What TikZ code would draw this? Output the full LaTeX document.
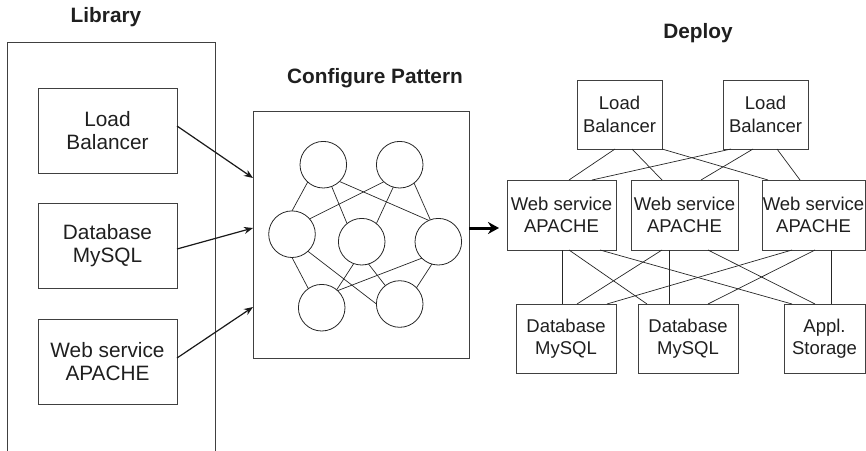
\documentclass[tikz,border=0pt]{standalone}
\usepackage{fontspec}
\setmainfont{Liberation Sans}
\usetikzlibrary{arrows.meta}
\begin{document}
\begin{tikzpicture}[x=1pt,y=-1pt,
 title/.style={font=\fontsize{20.8}{24}\selectfont\bfseries, text=black!88, inner sep=0pt},
 libbox/.style={draw=black!75, line width=0.9pt, minimum width=139pt, minimum height=85pt, align=center, font=\fontsize{20.8}{23.5}\selectfont, inner sep=0pt, outer sep=0pt, text=black!88},
 depbox/.style={draw=black!75, line width=0.9pt, align=center, font=\fontsize{18.5}{22.5}\selectfont, inner sep=0pt, outer sep=0pt, text=black!88},
 framebox/.style={draw=black!75, line width=0.9pt, inner sep=0pt, outer sep=0pt},
 nodecirc/.style={circle, draw=black!85, line width=0.8pt, minimum size=46.6pt, inner sep=0pt, outer sep=0pt},
 link/.style={black!85, line width=0.7pt},
 feed/.style={black!90, line width=1.2pt, -{Stealth[length=9pt,width=7pt]}},
 bigfeed/.style={black, line width=3pt, -{Stealth[length=11pt,width=12pt]}},
]
\useasboundingbox (0,0) rectangle (866,450);

% Titles
\node[title] (tlib) at (106,17) {Library};
\node[title] (tcfg) at (375,78) {Configure Pattern};
\node[title] (tdep) at (698,33) {Deploy};

% Library frame (open at bottom)
\draw[draw=black!75, line width=0.9pt] (7,452) -- (7,42) -- (215,42) -- (215,452);

% Library boxes
\node[libbox] (llb) at (107.5,130.5) {Load\\Balancer};
\node[libbox] (ldb) at (107.5,245.5) {Database\\MySQL};
\node[libbox] (lws) at (107.5,361.5) {Web service\\APACHE};

% Configure box
\node[framebox, minimum width=216pt, minimum height=247pt] (cfg) at (361,234.5) {};

% Circles
\node[nodecirc] (c1) at (323.3,164.7) {};
\node[nodecirc] (c2) at (399.7,164.7) {};
\node[nodecirc] (c3) at (292,234.2) {};
\node[nodecirc] (c4) at (361.7,241.7) {};
\node[nodecirc] (c5) at (438.3,241.7) {};
\node[nodecirc] (c6) at (321.7,307.7) {};
\node[nodecirc] (c7) at (399.7,304) {};

\draw[link] (c1.228) -- (c3.90);
\draw[link] (c1.-69) -- (c4.129);
\draw[link] (c1.-46) -- (c5.114);
\draw[link] (c2.227) -- (c3.41);
\draw[link] (c2.-106) -- (c4.51);
\draw[link] (c2.-52) -- (c5.110);
\draw[link] (c3.-90) -- (c6.125);
\draw[link] (c3.-47) -- (c7.180);
\draw[link] (c4.-110) -- (c6.50);
\draw[link] (c4.-73) -- (c7.128);
\draw[link] (c5.-135) -- (c6.47);
\draw[link] (c5.-106) -- (c7.44);

% Library -> Configure
\draw[feed] ([yshift=4.5pt]llb.east) -- ([yshift=56.5pt]cfg.west);
\draw[feed] ([yshift=-3.5pt]ldb.east) -- ([yshift=6.5pt]cfg.west);
\draw[feed] ([yshift=3.5pt]lws.east) -- ([yshift=-72.5pt]cfg.west);

% Deploy boxes
\node[depbox, minimum width=85pt, minimum height=69pt] (dlb1) at (619.5,114.5) {Load\\Balancer};
\node[depbox, minimum width=85pt, minimum height=69pt] (dlb2) at (765.5,114.5) {Load\\Balancer};
\node[depbox, minimum width=109pt, minimum height=70pt] (w1) at (561.5,215) {Web service\\APACHE};
\node[depbox, minimum width=107pt, minimum height=70pt] (w2) at (684.5,215) {Web service\\APACHE};
\node[depbox, minimum width=103pt, minimum height=70pt] (w3) at (813.5,215) {Web service\\APACHE};
\node[depbox, minimum width=100pt, minimum height=69pt] (d1) at (566,338.5) {Database\\MySQL};
\node[depbox, minimum width=100pt, minimum height=69pt] (d2) at (688,338.5) {Database\\MySQL};
\node[depbox, minimum width=81pt, minimum height=69pt] (st) at (824.5,338.5) {Appl.\\Storage};

% Configure -> Deploy
\draw[bigfeed, shorten >=8pt] ([yshift=6.5pt]cfg.east) -- ([yshift=-13pt]w1.west);

% LB -> Web
\draw[link] ([xshift=38pt]dlb1.south west) -- ([xshift=62pt]w1.north west);
\draw[link] ([xshift=55pt]dlb1.south west) -- ([xshift=31pt]w2.north west);
\draw[link] ([xshift=85pt]dlb1.south west) -- ([xshift=6pt]w3.north west);
\draw[link] ([xshift=8pt]dlb2.south west) -- ([xshift=85pt]w1.north west);
\draw[link] ([xshift=30pt]dlb2.south west) -- ([xshift=70pt]w2.north west);
\draw[link] ([xshift=54pt]dlb2.south west) -- ([xshift=38pt]w3.north west);

% Web -> DB / Storage
\draw[link] ([xshift=55pt]w1.south west) -- ([xshift=46pt]d1.north west);
\draw[link] ([xshift=62pt]w1.south west) -- ([xshift=9pt]d2.north west);
\draw[link] ([xshift=93pt]w1.south west) -- ([xshift=8pt]st.north west);
\draw[link] ([xshift=31pt]w2.south west) -- ([xshift=61pt]d1.north west);
\draw[link] ([xshift=38pt]w2.south west) -- ([xshift=31pt]d2.north west);
\draw[link] ([xshift=77pt]w2.south west) -- ([xshift=31pt]st.north west);
\draw[link] ([xshift=30pt]w3.south west) -- ([xshift=91pt]d1.north west);
\draw[link] ([xshift=53pt]w3.south west) -- ([xshift=70pt]d2.north west);
\draw[link] ([xshift=69pt]w3.south west) -- ([xshift=47pt]st.north west);
\end{tikzpicture}
\end{document}
